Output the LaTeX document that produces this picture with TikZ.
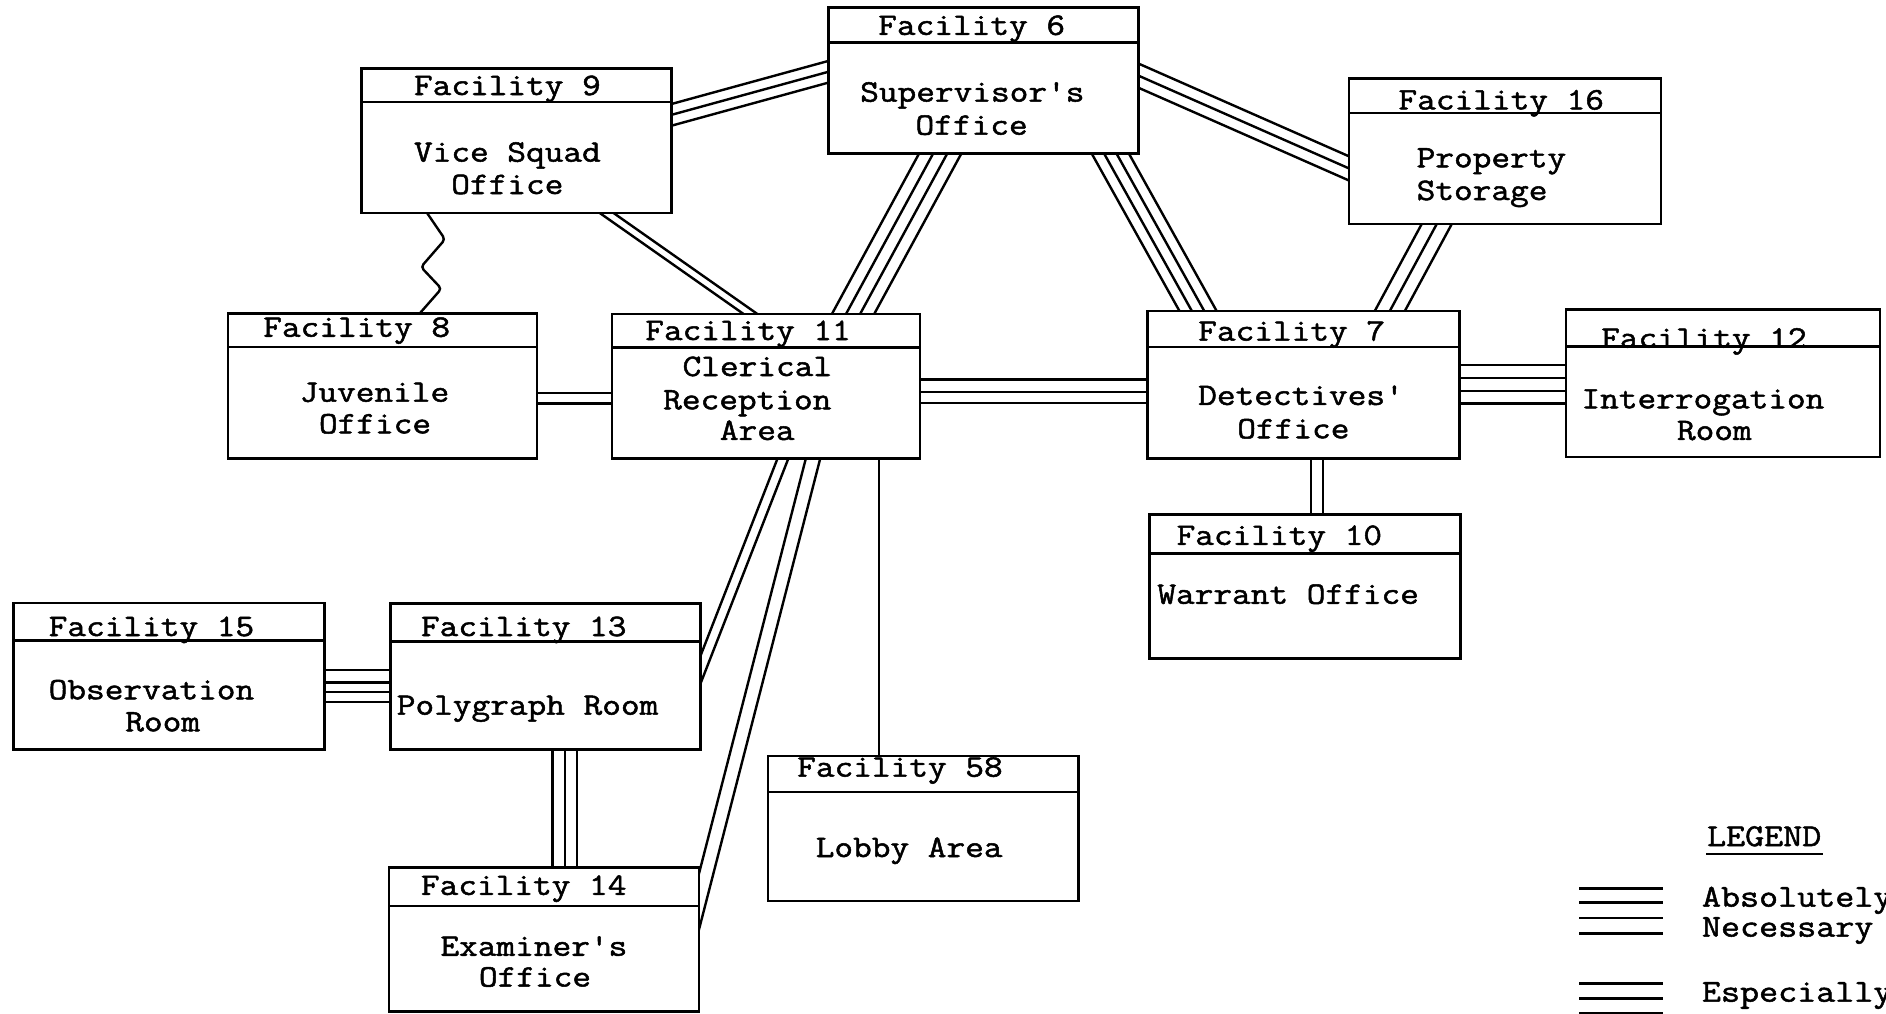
\documentclass[tikz,border=0pt]{standalone}
\usepackage{fontspec}
\newfontfamily\typer{Latin Modern Mono}[FakeStretch=1.16, FakeBold=1.6]
\usetikzlibrary{calc,fit}
\pgfdeclarelayer{bg}
\pgfsetlayers{bg,main}

% a facility box: name, left, top, right, bottom, depth of the title bar
\newcommand\facility[6]{%
  \node[fbox, fit={(#2,#3) (#4,#5)}] (#1) {};
  \draw[fline] ([yshift=-#6pt]#1.north west) -- ([yshift=-#6pt]#1.north east);
}
% parallel strokes between two points on box edges; #3 = perpendicular offsets
\newcommand\link[3]{%
  \coordinate (ea) at ($(#1)!-30pt!(#2)$);
  \coordinate (eb) at ($(#2)!-30pt!(#1)$);
  \foreach \o in {#3}{\draw[conn] ($(ea)!\o pt!90:(eb)$) -- ($(eb)!\o pt!-90:(ea)$);}
}

\begin{document}
\begin{tikzpicture}[x=1pt,y=-1pt,
  fbox/.style={draw, line width=2.2pt, fill=white, rectangle, inner sep=0pt, outer sep=0pt},
  fline/.style={line width=2.2pt},
  conn/.style={line width=2pt, line cap=butt},
  legline/.style={line width=2.4pt},
  ftxt/.style={inner sep=0pt, anchor=base west, font=\typer\fontsize{26pt}{28pt}\selectfont},
  ltxt/.style={inner sep=0pt, anchor=base west, font=\typer\fontsize{26.5pt}{28pt}\selectfont}]
\useasboundingbox (0,0) rectangle (1568,843);
\clip (0,0) rectangle (1568,843);

% boxes
\facility{f6}{689}{6}{946.5}{127.5}{29.5}
\facility{f9}{300.5}{56.8}{558.2}{177}{28}
\facility{f16}{1121.5}{65.2}{1381}{186.2}{28.8}
\facility{f8}{189.7}{260.5}{446.5}{381}{28}
\facility{f11}{508.8}{261}{765}{381}{28}
\facility{f7}{954}{258.5}{1213.5}{381}{30}
\facility{f12}{1302}{257.2}{1563}{380}{30.8}
\facility{f10}{955.8}{427.5}{1214.2}{547.5}{32.5}
\facility{f15}{11.3}{501.3}{270}{623.1}{31.4}
\facility{f13}{324.4}{502}{582.3}{623.1}{31.3}
\facility{f58}{638.5}{628.5}{896.5}{749}{30}
\facility{f14}{323.5}{721.2}{581}{841}{32.1}

% titles and room names
\node[ftxt] (t6) at (730,29) {Facility 6};
\node[ftxt] (t6a) at (715,84.5) {Supervisor's};
\node[ftxt] (t6b) at (761,112) {Office};

\node[ftxt] (t9) at (344,79) {Facility 9};
\node[ftxt] (t9a) at (344,134.4) {Vice Squad};
\node[ftxt] (t9b) at (375,161.3) {Office};

\node[ftxt] (t16) at (1162.5,91) {Facility 16};
\node[ftxt] (t16a) at (1177.6,139.1) {Property};
\node[ftxt] (t16b) at (1177.6,166.3) {Storage};

\node[ftxt] (t8) at (218.7,280) {Facility 8};
\node[ftxt] (t8a) at (249,334) {Juvenile};
\node[ftxt] (t8b) at (265,360.3) {Office};

\node[ftxt] (t11) at (536.3,282.7) {Facility 11};
\node[ftxt] (t11a) at (567.3,312.6) {Clerical};
\node[ftxt] (t11b) at (551.2,340.3) {Reception};
\node[ftxt] (t11c) at (598.3,365.8) {Area};

\node[ftxt] (t7) at (996,283.2) {Facility 7};
\node[ftxt] (t7a) at (996,336.7) {Detectives'};
\node[ftxt] (t7b) at (1028.5,364.4) {Office};

\node[ftxt] (t12) at (1331,289) {Facility 12};
\node[ftxt] (t12a) at (1314.6,339.5) {Interrogation};
\node[ftxt] (t12b) at (1394,365.8) {Room};

\node[ftxt] (t10) at (978,453) {Facility 10};
\node[ftxt] (t10a) at (962,502) {Warrant Office};

\node[ftxt] (t15) at (40.3,528.8) {Facility 15};
\node[ftxt] (t15a) at (40.3,581.4) {Observation};
\node[ftxt] (t15b) at (104,608) {Room};

\node[ftxt] (t13) at (349.8,528.8) {Facility 13};
\node[ftxt] (t13a) at (329.7,594.2) {Polygraph Room};

\node[ftxt] (t58) at (662.6,645.7) {Facility 58};
\node[ftxt] (t58a) at (678,712.5) {Lobby Area};

\node[ftxt] (t14) at (349.8,744) {Facility 14};
\node[ftxt] (t14a) at (366,794.6) {Examiner's};
\node[ftxt] (t14b) at (398,820.2) {Office};

% connections, behind the boxes
\begin{pgfonlayer}{bg}
\link{f9.east |- 0,95.5}{f6.west |- 0,59.6}{-8.7,0,8.7}
\link{f6.east |- 0,62.9}{f16.west |- 0,140}{-9.2,0,9.2}
\link{f6.south -| 781.75,0}{f11.north -| 709.25,0}{-15.45,-5.15,5.15,15.45}
\link{f6.south -| 923,0}{f7.north -| 996,0}{-13.5,-4.5,4.5,13.5}
\link{f16.south -| 1194.5,0}{f7.north -| 1155.5,0}{-11,0,11}
\link{f9.south -| 504.25,0}{f11.north -| 623.85,0}{-3.3,3.3}
\draw[conn, rounded corners=3pt] (f9.south -| 355,0) -- (370,199) -- (350,222)
  -- (367,240) -- (f8.north -| 349,0);
\link{f8.east |- 0,330.9}{f11.west |- 0,330.9}{-4.4,4.4}
\link{f11.east |- 0,325.5}{f7.west |- 0,325.5}{10,-0.5,-9.5}
\link{f7.east |- 0,319.5}{f12.west |- 0,319.5}{16,5,-5.5,-16}
\link{f7.south -| 1095,0}{f10.north -| 1095,0}{-5,5}
\link{f11.south -| 651,0}{f13.east |- 0,557}{-4.2,4.2}
\link{f11.south -| 676,0}{f14.east |- 0,750}{-5.8,5.8}
\link{f11.south -| 731,0}{f58.north -| 731,0}{0}
\link{f15.east |- 0,570.8}{f13.west |- 0,570.8}{13.8,3.4,-4.5,-12.8}
\link{f13.south -| 469.5,0}{f14.north -| 469.5,0}{-10.1,0,10.1}
\end{pgfonlayer}

% legend
\node[ltxt] (lg) at (1419,703.4) {LEGEND};
\draw[fline] (1418.5,710) -- (1515.3,710);
\foreach \y in {738.5,750.5,763.2,776} \draw[legline] (1312.8,\y) -- (1382.9,\y);
\foreach \y in {817.5,830,842.5} \draw[legline] (1312.8,\y) -- (1382.9,\y);
\node[ltxt] (lg1) at (1414.8,753.8) {Absolutely};
\node[ltxt] (lg2) at (1414.8,778.7) {Necessary};
\node[ltxt] (lg3) at (1414.8,832.8) {Especially};
\end{tikzpicture}
\end{document}
